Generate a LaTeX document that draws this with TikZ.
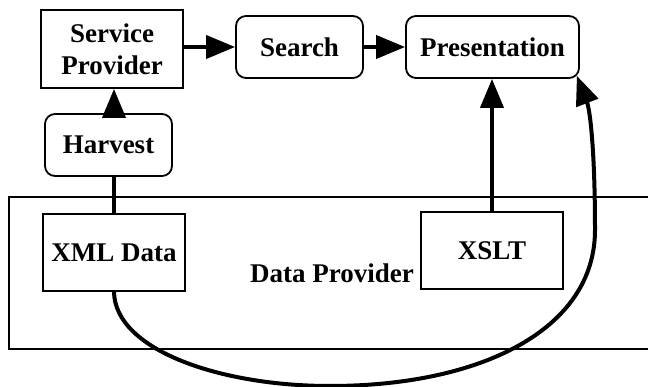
\documentclass[tikz,border=0pt]{standalone}
\usepackage{fontspec}
\setmainfont{Liberation Serif}
\usetikzlibrary{arrows.meta}
\begin{document}
\begin{tikzpicture}[x=1pt,y=-1pt,
  box/.style={draw,line width=1.8pt,inner sep=0pt,align=center,font=\fontsize{27}{32}\selectfont\bfseries},
  rbox/.style={box,rounded corners=10pt},
  conn/.style={line width=4pt},
  arr/.style={conn,-{Triangle[length=29pt,width=23pt]}}]
\useasboundingbox (0,0) rectangle (648,387);
\clip (0,0) rectangle (648,387);
\draw[line width=1.6pt] (9,197) rectangle (670,349);
\node[box,minimum width=142pt,minimum height=78pt] (sp) at (112,49) {Service\\Provider};
\node[rbox,minimum width=127pt,minimum height=62pt] (search) at (299.5,47) {Search};
\node[rbox,minimum width=173pt,minimum height=62pt] (pres) at (492.5,47) {Presentation};
\node[rbox,minimum width=127pt,minimum height=62pt] (harvest) at (108.5,145) {Harvest};
\node[box,minimum width=142pt,minimum height=77pt] (xml) at (114,252.5) {XML Data};
\node[box,minimum width=142pt,minimum height=77pt] (xslt) at (492,250.5) {XSLT};
\node[font=\fontsize{27}{32}\selectfont\bfseries,anchor=base,inner sep=0pt] (dp) at (332,283) {Data Provider};
\draw[arr] (sp.east |- search.west) -- (search.west);
\draw[arr] (search.east) -- (pres.west);
\draw[arr] (xml.north |- harvest.north) -- (xml.north |- sp.south);
\draw[conn] (xml.north |- harvest.south) -- (xml.north);
\draw[arr] (xslt.north) -- (xslt.north |- pres.south);
\coordinate (c1) at (330,386);
\coordinate (c2) at (595,230);
\draw[arr] (xml.south) .. controls (115,350) and (220,386) .. (c1)
  .. controls (480,386) and (595,330) .. (c2)
  .. controls (595,150) and (590,110) .. ([shift={(-3,-3)}]pres.south east);
\end{tikzpicture}
\end{document}
